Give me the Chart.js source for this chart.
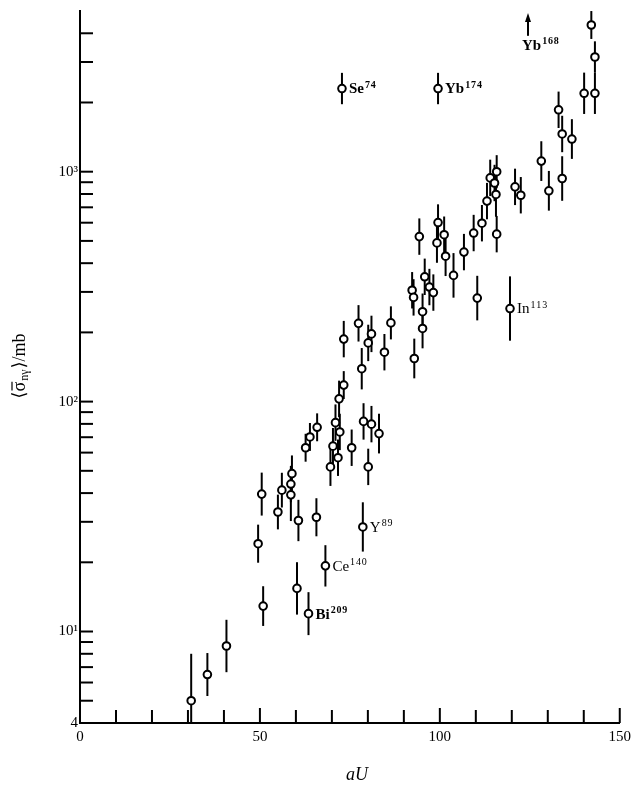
<!DOCTYPE html>
<html>
<head>
<meta charset="utf-8">
<script src="https://cdn.jsdelivr.net/npm/chart.js@4.4.1/dist/chart.umd.min.js"></script>
<style>
html,body{margin:0;padding:0;background:#fff;}
#wrap{width:636px;height:791px;position:relative;}
</style>
</head>
<body>
<div id="wrap"><canvas id="c"></canvas></div>
<script>
// ---- data ----
const ax = [30.9,35.4,40.7,49.5,50.5,50.9,55.0,56.1,58.6,58.6,58.9,60.3,60.7,62.7,63.5,63.9,65.7,65.9,68.2,69.6,70.3,71.0,71.7,72.2,72.0,73.3,73.3,75.5,77.4,78.3,78.6,78.8,80.1,80.1,81.0,81.0,83.1,84.6,86.4,92.3,92.7,92.9,94.3,95.2,95.2,95.8,97.1,98.2,99.2,99.5,101.2,101.6,103.8,106.7,109.4,110.4,111.7,113.1,114.0,115.2,115.6,115.8,115.8,119.5,120.9,122.5,128.2,130.3,133.0,134.0,134.0,136.7,140.1,143.1,143.1,142.1,72.8,99.5];
const sigma = [5.0,6.5,8.65,24.1,39.6,12.9,33.1,41.2,39.3,43.8,48.6,15.4,30.4,63,11.96,70.2,31.4,77.3,19.3,52,64,81,57,73.8,102.8,118,187,63,219,139,28.5,82,52,180,197,79.8,72.6,164,220,305,284,154,522,208,246,349,315,298,490,601,532,429,354,447,541,282,597,745,940,893,796,1000,535,254,859,790,1112,826,1859,1459,934,1387,2193,2193,3154,4346,2300,2300];
const relErr = [0.6,0.24,0.3,0.21,0.24,0.22,0.19,0.19,0.3,0.2,0.2,0.3,0.23,0.15,0.24,0.15,0.21,0.15,0.23,0.21,0.2,0.2,0.2,0.2,0.2,0.15,0.2,0.2,0.2,0.23,0.28,0.2,0.2,0.2,0.2,0.2,0.22,0.2,0.18,0.2,0.2,0.22,0.2,0.22,0.2,0.2,0.2,0.2,0.22,0.2,0.2,0.22,0.25,0.2,0.2,0.25,0.2,0.2,0.2,0.2,0.25,0.18,0.2,0.38,0.2,0.2,0.22,0.22,0.2,0.2,0.25,0.22,0.23,0.23,0.17,0.15,0.17,0.17];

const labelElem = ['Se','Yb','In','Y','Ce','Bi'];
const labelMass = ['74','174','113','89','140','209'];
const labelIdx  = [76,77,63,30,18,14];
const labelBold = [true,true,false,false,false,true];

const arrowElem = 'Yb', arrowMass = '168';
const arrowX = 124.5, arrowFrom = 3900, arrowTo = 5000;

const xTickVals = [0,10,20,30,40,50,60,70,80,90,100,110,120,130,140,150];
const xLabelVals = [0,50,100,150];
const yLabelVals = [4,10,100,1000];
const yLabelText = ['4','10\u00B9','10\u00B2','10\u00B3'];
const yMinorVals = [5,6,7,8,9,20,30,40,50,60,70,80,90,200,300,400,500,600,700,800,900,2000,3000,4000];

const points = ax.map((x,i)=>({x:x, y:sigma[i]}));

const serif = '"Liberation Serif","DejaVu Serif",serif';

function supText(ctx, x, y, base, sup, size, bold){
  ctx.font = (bold?'bold ':'') + size + 'px ' + serif;
  ctx.textBaseline = 'middle';
  ctx.textAlign = 'left';
  ctx.fillText(base, x, y);
  const w = ctx.measureText(base).width;
  ctx.font = (bold?'bold ':'') + Math.round(size*0.65) + 'px ' + serif;
  ctx.fillText(sup.split('').join('\u200A'), x + w + 1, y - size*0.3);
}

const overlay = {
  id:'overlay',
  beforeDatasetsDraw(chart){
    const ctx = chart.ctx, xs = chart.scales.x, ys = chart.scales.y;
    ctx.save();
    ctx.strokeStyle = '#000'; ctx.lineWidth = 2;
    for(let i=0;i<ax.length;i++){
      const px = xs.getPixelForValue(ax[i]);
      const hi = ys.getPixelForValue(sigma[i]*(1+relErr[i]));
      const lo = ys.getPixelForValue(Math.max(4, sigma[i]/(1+relErr[i])));
      ctx.beginPath(); ctx.moveTo(px,hi); ctx.lineTo(px,lo); ctx.stroke();
    }
    ctx.restore();
  },
  afterDraw(chart){
    const ctx = chart.ctx, xs = chart.scales.x, ys = chart.scales.y, ca = chart.chartArea;
    ctx.save();
    ctx.strokeStyle = '#000'; ctx.fillStyle = '#000'; ctx.lineWidth = 2;
    // inward ticks on x axis
    xTickVals.forEach(v=>{
      const px = xs.getPixelForValue(v);
      const len = xLabelVals.includes(v) ? 15 : 13;
      ctx.beginPath(); ctx.moveTo(px, ca.bottom); ctx.lineTo(px, ca.bottom-len); ctx.stroke();
    });
    // inward ticks on y axis
    yMinorVals.concat([10,100,1000]).forEach(v=>{
      const py = ys.getPixelForValue(v);
      ctx.beginPath(); ctx.moveTo(ca.left, py); ctx.lineTo(ca.left+13, py); ctx.stroke();
    });
    // element labels
    ctx.fillStyle = '#000';
    labelIdx.forEach((idx,k)=>{
      const px = xs.getPixelForValue(ax[idx]);
      const py = ys.getPixelForValue(sigma[idx]);
      supText(ctx, px+7, py+1, labelElem[k], labelMass[k], 15, labelBold[k]);
    });
    // Yb168 lower-limit arrow
    const axp = xs.getPixelForValue(arrowX);
    const a0 = ys.getPixelForValue(arrowFrom), a1 = ys.getPixelForValue(arrowTo) + 2;
    ctx.lineWidth = 2;
    ctx.beginPath(); ctx.moveTo(axp,a0); ctx.lineTo(axp,a1+5); ctx.stroke();
    ctx.beginPath(); ctx.moveTo(axp,a1); ctx.lineTo(axp-3,a1+9); ctx.lineTo(axp+3,a1+9); ctx.closePath(); ctx.fill();
    supText(ctx, axp-6, a0+10, arrowElem, arrowMass, 15, true);
    // x-axis title
    ctx.font = 'italic 18px ' + serif;
    ctx.textAlign = 'center'; ctx.textBaseline = 'middle';
    ctx.fillText('aU', (ca.left+ca.right)/2 + 7, 775);
    // y-axis title (rotated)
    ctx.translate(20, 366);
    ctx.rotate(-Math.PI/2);
    const f1 = '18px ' + serif, f2 = '12px ' + serif;
    ctx.font = f1; const wA = ctx.measureText('\u27E8').width, wS = ctx.measureText('\u03C3').width;
    ctx.font = f2; const wSub = ctx.measureText('n\u03B3').width;
    ctx.font = f1; const wB = ctx.measureText('\u27E9/mb').width;
    const total = wA + wS + wSub + 2 + wB;
    let x0 = -total/2;
    ctx.textAlign = 'left'; ctx.textBaseline = 'middle';
    ctx.font = f1; ctx.fillText('\u27E8', x0, 0); x0 += wA;
    ctx.fillText('\u03C3', x0, 0);
    ctx.lineWidth = 1.2; ctx.beginPath(); ctx.moveTo(x0+1, -8); ctx.lineTo(x0+wS, -8); ctx.stroke();
    x0 += wS;
    ctx.font = f2; ctx.fillText('n\u03B3', x0+1, 5); x0 += wSub + 2;
    ctx.font = f1; ctx.fillText('\u27E9/mb', x0, 0);
    ctx.restore();
  }
};

new Chart(document.getElementById('c'), {
  type:'scatter',
  data:{ datasets:[{
    data: points,
    pointStyle:'circle',
    pointRadius:3.8,
    pointHoverRadius:3.8,
    pointBorderWidth:2,
    pointBackgroundColor:'#fff',
    pointBorderColor:'#000'
  }]},
  options:{
    responsive:true, maintainAspectRatio:false, animation:false,
    layout:{padding:{left:0,right:10,top:6,bottom:0}},
    plugins:{legend:{display:false}, tooltip:{enabled:false}},
    scales:{
      x:{
        type:'linear', min:0, max:150,
        afterBuildTicks: s => { s.ticks = xLabelVals.map(v=>({value:v})); },
        afterFit: s => { s.height = 68; },
        ticks:{ color:'#000', padding:5, font:{family:serif, size:15}, maxRotation:0, autoSkip:false },
        grid:{ display:true, drawOnChartArea:false, drawTicks:false },
        border:{ display:true, color:'#000', width:2 }
      },
      y:{
        type:'logarithmic', min:4, max:5000,
        afterBuildTicks: s => { s.ticks = yLabelVals.map(v=>({value:v})); },
        afterFit: s => { s.width = 80; },
        ticks:{ color:'#000', padding:2, font:{family:serif, size:15}, autoSkip:false,
          callback: (v) => { const i = yLabelVals.indexOf(v); return i>=0 ? yLabelText[i] : ''; } },
        grid:{ display:true, drawOnChartArea:false, drawTicks:false },
        border:{ display:true, color:'#000', width:2 }
      }
    }
  },
  plugins:[overlay]
});
</script>
</body>
</html>
